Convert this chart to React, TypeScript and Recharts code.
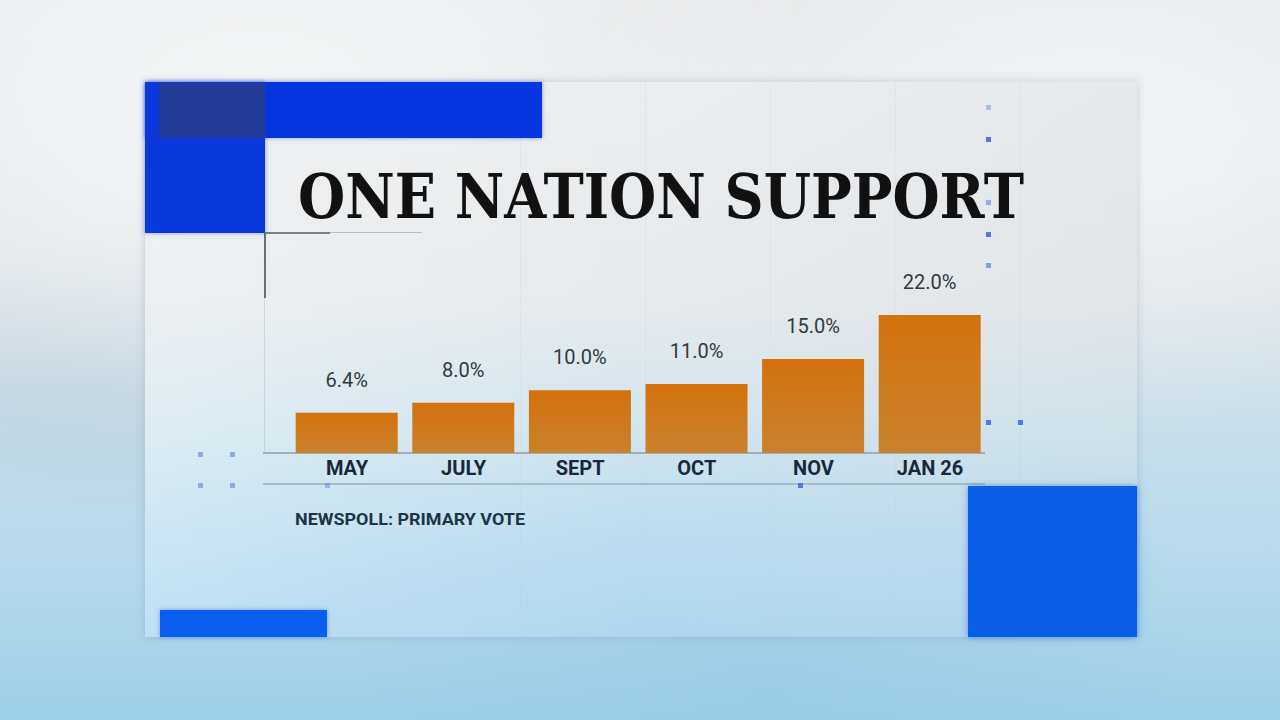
import React from "react";
import { BarChart, Bar, XAxis, YAxis, LabelList } from "recharts";

const categories = ["MAY", "JULY", "SEPT", "OCT", "NOV", "JAN 26"];
const support = [6.4, 8.0, 10.0, 11.0, 15.0, 22.0];
const valueLabels = ["6.4%", "8.0%", "10.0%", "11.0%", "15.0%", "22.0%"];
const titleText = "ONE NATION SUPPORT";
const sourceText = "NEWSPOLL: PRIMARY VOTE";

const data = categories.map((c, i) => ({ month: c, value: support[i], label: valueLabels[i] }));

const abs = (l: number, t: number, w: number, h: number, extra: React.CSSProperties = {}): React.CSSProperties => ({
  position: "absolute",
  left: l,
  top: t,
  width: w,
  height: h,
  ...extra,
});

const dots: [number, number, number][] = [
  [988, 107, 0.35],
  [988, 139, 0.9],
  [988, 202, 0.5],
  [988, 234, 0.9],
  [988, 265, 0.6],
  [988, 422, 0.9],
  [1020, 422, 0.9],
  [200, 454, 0.5],
  [232, 454, 0.5],
  [200, 485, 0.5],
  [232, 485, 0.5],
  [327, 485, 0.4],
  [800, 485, 0.9],
];

export default function App() {
  return (
    <div style={abs(0, 0, 1280, 720, { overflow: "hidden", fontFamily: "Roboto, sans-serif" })}>
      {/* crumpled paper background */}
      <div
        style={abs(0, 0, 1280, 720, {
          background:
            "radial-gradient(ellipse at 20% 15%, rgba(255,255,255,0.7), rgba(255,255,255,0) 40%)," +
            "radial-gradient(ellipse at 85% 20%, rgba(255,255,255,0.6), rgba(255,255,255,0) 35%)," +
            "radial-gradient(ellipse at 8% 55%, rgba(170,190,205,0.35), rgba(170,190,205,0) 30%)," +
            "radial-gradient(ellipse at 60% 95%, rgba(150,200,230,0.5), rgba(150,200,230,0) 40%)," +
            "linear-gradient(180deg, #e4e6e8 0%, #dde3e7 40%, #bcdcec 72%, #9ccfe9 100%)",
        })}
      />
      {/* card */}
      <div
        style={abs(145, 82, 992, 555, {
          background:
            "linear-gradient(90deg, rgba(255,255,255,0.25) 0%, rgba(255,255,255,0) 50%, rgba(200,205,210,0.15) 100%)," +
            "linear-gradient(180deg, #ebedef 0%, #e7eaec 38%, #d2e5ee 62%, #b9dcef 85%, #acd6ef 100%)",
          boxShadow: "0 0 8px rgba(120,140,160,0.35)",
        })}
      />
      {/* faint grid lines on card */}
      {[520, 645, 770, 895, 1020].map((x) => (
        <div key={"v" + x} style={abs(x, 82, 1, 555, { background: "rgba(180,190,200,0.12)" })} />
      ))}
      {/* axis decoration lines */}
      <div style={abs(264, 233, 2, 65, { background: "#6b7076" })} />
      <div style={abs(264, 298, 1, 155, { background: "rgba(150,160,170,0.3)" })} />
      <div style={abs(265, 232, 65, 2, { background: "#7d8187" })} />
      <div style={abs(330, 232, 92, 1, { background: "rgba(140,150,160,0.55)" })} />
      <div style={abs(263, 452, 722, 2, { background: "#9fadb9" })} />
      <div style={abs(263, 483, 722, 2, { background: "#a6bccb" })} />
      {/* blue blocks */}
      <div style={abs(145, 82, 397, 56, { background: "#0636e0", boxShadow: "0 0 4px rgba(10,60,230,0.5)" })} />
      <div style={abs(145, 82, 120, 151, { background: "#0939dd", boxShadow: "0 0 4px rgba(10,60,230,0.5)" })} />
      <div style={abs(159, 83, 106, 55, { background: "#223c97" })} />
      <div style={abs(160, 610, 167, 27, { background: "#0a5ff0", boxShadow: "0 0 4px rgba(10,90,240,0.5)" })} />
      <div style={abs(968, 486, 169, 151, { background: "#0a5ee6", boxShadow: "0 0 6px rgba(10,90,240,0.55)" })} />
      {/* dots */}
      {dots.map(([x, y, o], i) => (
        <div key={"d" + i} style={abs(x - 2.5, y - 2.5, 5, 5, { background: "#3f6fe6", opacity: o })} />
      ))}

      {/* chart */}
      <div style={abs(0, 0, 1280, 720)}>
        <BarChart
          width={1280}
          height={720}
          data={data}
          margin={{ top: 315, right: 291.7, bottom: 237, left: 288.7 }}
          barSize={102}
        >
          <defs>
            <linearGradient id="barGrad" x1="0" y1="0" x2="0" y2="1">
              <stop offset="0%" stopColor="#d4710d" />
              <stop offset="100%" stopColor="#c8822c" />
            </linearGradient>
          </defs>
          <YAxis hide domain={[0, 22]} />
          <XAxis
            dataKey="month"
            height={30}
            axisLine={false}
            tickLine={false}
            interval={0}
            tick={{ fill: "#17293a", fontSize: 20, fontWeight: 700, fontFamily: "Roboto, sans-serif" }}
          />
          <Bar dataKey="value" fill="url(#barGrad)" isAnimationActive={false}>
            <LabelList
              dataKey="label"
              position="top"
              offset={26}
              fill="#333a40"
              fontSize={20}
              fontFamily="Roboto, sans-serif"
            />
          </Bar>
        </BarChart>
      </div>

      {/* title and source */}
      <svg width={1280} height={720} style={abs(0, 0, 1280, 720, { pointerEvents: "none" })}>
        <text
          x={298}
          y={218}
          fontFamily="'DejaVu Serif', serif"
          fontWeight={700}
          fontSize={62}
          fill="#111111"
          textLength={726}
          lengthAdjust="spacingAndGlyphs"
        >
          {titleText}
        </text>
        <text
          x={295}
          y={525}
          fontFamily="Roboto, sans-serif"
          fontWeight={700}
          fontSize={17}
          fill="#1e3346"
          textLength={230}
          lengthAdjust="spacingAndGlyphs"
        >
          {sourceText}
        </text>
      </svg>
    </div>
  );
}
